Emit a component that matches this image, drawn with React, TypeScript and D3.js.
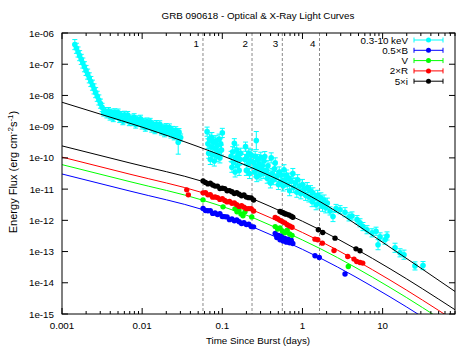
import React from "react";
import * as d3 from "d3";

type Pt = [number, number];
type ErrPt = [number, number, number];

// ---------- texts & ticks ----------
const chartTitle = "GRB 090618 - Optical & X-Ray Light Curves";
const xAxisTitle = "Time Since Burst (days)";
const xTickValues = [0.001, 0.01, 0.1, 1, 10];
const xTickLabels = ["0.001", "0.01", "0.1", "1", "10"];
const yTickValues = [1e-6, 1e-7, 1e-8, 1e-9, 1e-10, 1e-11, 1e-12, 1e-13, 1e-14, 1e-15];
const yTickLabels = ["1e-06", "1e-07", "1e-08", "1e-09", "1e-10", "1e-11", "1e-12", "1e-13", "1e-14", "1e-15"];
const xDomain: [number, number] = [0.001, 80];
const yDomain: [number, number] = [1e-15, 1e-6];
const epochTimes = [0.0574, 0.2348, 0.5606, 1.632];
const epochLabels = ["1", "2", "3", "4"];
const legendLabels = ["0.3-10 keV", "0.5×B", "V", "2×R", "5×i"];

// ---------- X-ray data: [days, flux, relative error] ----------
const xraySteep: ErrPt[] = [
  [1.445e-3, 4.25e-7, 0.45], [1.514e-3, 3.24e-7, 0.45], [1.585e-3, 2.46e-7, 0.45], [1.66e-3, 1.88e-7, 0.45],
  [1.738e-3, 1.43e-7, 0.45], [1.82e-3, 1.09e-7, 0.45], [1.905e-3, 8.3e-8, 0.45], [1.995e-3, 6.31e-8, 0.45],
  [2.089e-3, 4.81e-8, 0.45], [2.188e-3, 3.66e-8, 0.45], [2.291e-3, 2.79e-8, 0.45], [2.399e-3, 2.13e-8, 0.45],
  [2.512e-3, 1.62e-8, 0.45], [2.63e-3, 1.23e-8, 0.45], [2.754e-3, 9.4e-9, 0.45], [2.884e-3, 7.16e-9, 0.45],
  [3.02e-3, 5.46e-9, 0.4], [3.162e-3, 4.15e-9, 0.35],
];
const xrayPlateau: ErrPt[] = [
  [3.311e-3, 2.84e-9, 0.3], [3.467e-3, 3.16e-9, 0.3], [3.631e-3, 2.48e-9, 0.3], [3.802e-3, 3.16e-9, 0.3],
  [3.981e-3, 2.11e-9, 0.3], [4.169e-3, 2.82e-9, 0.3], [4.365e-3, 1.88e-9, 0.3], [4.571e-3, 2.88e-9, 0.3],
  [4.786e-3, 2.21e-9, 0.3], [5.012e-3, 2.82e-9, 0.3], [5.248e-3, 1.76e-9, 0.3], [5.495e-3, 2.35e-9, 0.3],
  [5.754e-3, 1.5e-9, 0.3], [6.026e-3, 2.4e-9, 0.3], [6.31e-3, 1.72e-9, 0.3], [6.607e-3, 2.35e-9, 0.3],
  [6.918e-3, 1.4e-9, 0.3], [7.244e-3, 1.82e-9, 0.3], [7.586e-3, 1.4e-9, 0.3], [7.943e-3, 2.0e-9, 0.3],
  [8.318e-3, 1.17e-9, 0.3], [8.71e-3, 1.71e-9, 0.3], [9.12e-3, 1.34e-9, 0.3], [9.55e-3, 1.79e-9, 0.3],
  [1.0e-2, 1.09e-9, 0.3], [1.047e-2, 1.42e-9, 0.3], [1.096e-2, 9.29e-10, 0.3], [1.148e-2, 1.46e-9, 0.3],
  [1.202e-2, 1.04e-9, 0.3], [1.259e-2, 1.42e-9, 0.3], [1.318e-2, 8.67e-10, 0.3], [1.38e-2, 1.18e-9, 0.3],
  [1.445e-2, 7.73e-10, 0.3], [1.514e-2, 1.21e-9, 0.3], [1.585e-2, 8.89e-10, 0.3], [1.66e-2, 1.19e-9, 0.3],
  [1.738e-2, 7.06e-10, 0.3], [1.82e-2, 9.2e-10, 0.3], [1.905e-2, 6.15e-10, 0.3], [1.995e-2, 9.64e-10, 0.3],
  [2.089e-2, 6.75e-10, 0.3], [2.188e-2, 9.42e-10, 0.3], [2.291e-2, 5.62e-10, 0.3], [2.399e-2, 7.85e-10, 0.3],
  [2.512e-2, 4.9e-10, 0.3], [2.63e-2, 7.67e-10, 0.3], [2.754e-2, 5.25e-10, 0.3], [2.884e-2, 6.68e-10, 0.3],
  [3.02e-2, 4.47e-10, 0.3], [2.818e-2, 3.16e-10, 1.4],
];
const xrayOrbits: ErrPt[] = [
  [6.46e-2, 6.92e-10, 0.4], [6.61e-2, 2.82e-10, 0.45], [6.76e-2, 1.41e-10, 0.45], [6.92e-2, 3.98e-10, 0.45],
  [7.08e-2, 8.91e-11, 0.45], [7.24e-2, 2.24e-10, 0.45], [7.41e-2, 4.47e-10, 0.45], [7.59e-2, 1.26e-10, 0.45],
  [7.76e-2, 3.16e-10, 0.45], [7.94e-2, 7.94e-11, 0.45], [8.13e-2, 2.0e-10, 0.45], [8.32e-2, 3.55e-10, 0.45],
  [8.51e-2, 1.12e-10, 0.45], [8.71e-2, 2.51e-10, 0.45], [8.91e-2, 1.58e-10, 0.45], [9.12e-2, 3.98e-10, 0.45],
  [9.33e-2, 1.0e-10, 0.45], [9.55e-2, 2.82e-10, 0.45], [9.77e-2, 1.78e-10, 0.45], [0.1, 6.31e-10, 0.4],
  [0.1288, 1.12e-10, 0.45], [0.1318, 5.01e-11, 0.45], [0.1349, 1.58e-10, 0.45], [0.138, 7.08e-11, 0.45],
  [0.1413, 2.95e-10, 0.4], [0.1445, 3.55e-11, 0.45], [0.1479, 1.0e-10, 0.45], [0.1514, 1.78e-10, 0.45],
  [0.1549, 5.62e-11, 0.45], [0.1585, 1.26e-10, 0.45], [0.1622, 3.98e-11, 0.45], [0.166, 8.91e-11, 0.45],
  [0.1698, 1.41e-10, 0.45],
  [0.1905, 8.91e-11, 0.45], [0.195, 2.29e-10, 0.4], [0.1995, 3.98e-11, 0.45], [0.2042, 1.12e-10, 0.45],
  [0.2089, 6.31e-11, 0.45], [0.2138, 1.41e-10, 0.45], [0.2188, 3.16e-11, 0.45], [0.2239, 7.94e-11, 0.45],
  [0.2291, 1.26e-10, 0.45],
  [0.2655, 3.58e-10, 0.95],
  [0.2455, 7.08e-11, 0.45], [0.2512, 3.55e-11, 0.45], [0.257, 1.12e-10, 0.45], [0.263, 5.01e-11, 0.45],
  [0.2692, 2.51e-11, 0.45], [0.2754, 8.91e-11, 0.45], [0.2818, 4.47e-11, 0.45], [0.2884, 6.31e-11, 0.45],
  [0.2951, 2.82e-11, 0.45], [0.302, 1.05e-10, 0.45], [0.309, 3.98e-11, 0.45], [0.3162, 5.62e-11, 0.45],
  [0.3236, 3.16e-11, 0.45], [0.3311, 7.94e-11, 0.45], [0.3388, 1.1e-10, 0.45],
  [0.3548, 3.98e-11, 0.45], [0.3631, 2.24e-11, 0.45], [0.3715, 5.62e-11, 0.45], [0.3802, 2.82e-11, 0.45],
  [0.3981, 1.58e-11, 0.45], [0.4074, 1.0e-10, 0.45], [0.4169, 3.16e-11, 0.45], [0.4365, 2.0e-11, 0.45],
  [0.4467, 4.47e-11, 0.45], [0.4571, 6.92e-11, 0.45], [0.4786, 2.51e-11, 0.45], [0.5012, 1.41e-11, 0.45],
  [0.5129, 3.55e-11, 0.45], [0.537, 1.78e-11, 0.45], [0.5495, 2.82e-11, 0.45], [0.5754, 1.26e-11, 0.45],
  [0.5888, 4.17e-11, 0.45], [0.6026, 2.0e-11, 0.45],
  [0.631, 2.82e-11, 0.45], [0.6457, 1.41e-11, 0.45], [0.6761, 2.24e-11, 0.45], [0.6918, 8.91e-12, 0.45],
  [0.7244, 1.78e-11, 0.45], [0.7586, 3.16e-11, 0.45], [0.7762, 1.12e-11, 0.45], [0.8128, 1.58e-11, 0.45],
  [0.8511, 7.94e-12, 0.45], [0.871, 2.0e-11, 0.45], [0.912, 1.26e-11, 0.45], [0.955, 7.08e-12, 0.45],
  [1.0, 1.41e-11, 0.45], [1.047, 1.0e-11, 0.45], [1.096, 6.31e-12, 0.45], [1.148, 1.12e-11, 0.45],
  [1.202, 5.62e-12, 0.45], [1.259, 8.91e-12, 0.45], [1.318, 3.98e-12, 0.45], [1.349, 7.59e-12, 0.45],
  [1.413, 5.01e-12, 0.45], [1.479, 3.16e-12, 0.45], [1.549, 6.31e-12, 0.45], [1.622, 3.55e-12, 0.45],
  [1.698, 5.25e-12, 0.45], [1.778, 2.82e-12, 0.45], [1.862, 4.47e-12, 0.45], [1.95, 2.51e-12, 0.45],
  [2.042, 3.55e-12, 0.45],
];
const xrayLate: ErrPt[] = [
  [2.208, 2.0e-12, 0.35], [2.404, 1.32e-12, 0.45], [2.624, 2.4e-12, 0.35], [2.944, 2.19e-12, 0.35],
  [3.396, 1.82e-12, 0.4], [3.811, 1.29e-12, 0.35], [4.15, 1.38e-12, 0.35], [4.797, 1.05e-12, 0.35],
  [5.224, 8.32e-13, 0.35], [5.689, 6.31e-13, 0.35], [6.383, 5.01e-13, 0.35], [7.379, 3.98e-13, 0.35],
  [8.279, 4.47e-13, 0.35], [8.77, 1.66e-13, 0.45], [9.29, 2.95e-13, 0.35], [10.72, 2.4e-13, 0.4],
  [11.35, 3.16e-13, 0.35], [14.29, 1.32e-13, 0.4], [16.48, 9.12e-14, 0.35], [18.49, 7.94e-14, 0.4],
  [25.35, 3.47e-14, 0.35], [31.92, 3.55e-14, 0.35],
];

// ---------- optical data: [days, flux] ----------
const epoch1Times = [
  5.754e-2, 6.166e-2, 6.607e-2, 7.079e-2, 7.586e-2, 8.128e-2, 8.71e-2, 9.333e-2, 0.1, 0.1072, 0.1148,
  0.123, 0.1318, 0.1413, 0.1514, 0.1622, 0.1738, 0.1862, 0.1995, 0.2138, 0.2291, 0.2455,
];
const fluxI1 = [
  1.82e-11, 1.64e-11, 1.47e-11, 1.55e-11, 1.36e-11, 1.25e-11, 1.25e-11, 1.05e-11, 1.06e-11, 1.04e-11, 8.91e-12,
  8.97e-12, 8.24e-12, 7.23e-12, 7.62e-12, 6.84e-12, 6.14e-12, 6.47e-12, 5.55e-12, 5.33e-12, 5.25e-12, 4.49e-12,
];
const fluxR1 = [
  7.6e-12, 7.66e-12, 6.56e-12, 6.61e-12, 5.53e-12, 5.57e-12, 5.35e-12, 4.69e-12, 4.94e-12, 4.34e-12, 3.89e-12,
  4.01e-12, 3.52e-12, 3.62e-12, 3.18e-12, 2.79e-12, 2.94e-12, 2.64e-12, 2.37e-12, 2.38e-12, 2.34e-12, 2.0e-12,
];
const fluxB1 = [
  2.4e-12, 2.06e-12, 2.03e-12, 2.04e-12, 1.67e-12, 1.72e-12, 1.54e-12, 1.63e-12, 1.33e-12, 1.31e-12, 1.29e-12,
  1.05e-12, 1.11e-12, 9.75e-13, 1.03e-12, 9.02e-13, 7.91e-13, 8.34e-13, 7.31e-13, 7.53e-13, 6.31e-13, 6.19e-13,
];
const bandIOther: Pt[] = [
  [0.5248, 1.91e-12], [0.5495, 1.82e-12], [0.5754, 1.74e-12], [0.6026, 1.62e-12], [0.631, 1.58e-12],
  [0.6761, 1.48e-12], [0.7244, 1.35e-12], [0.7586, 1.26e-12],
  [1.578, 4.97e-13], [1.79, 4.07e-13], [2.55, 2.69e-13], [4.66, 1.22e-13], [5.22, 1.06e-13],
];
const bandROther: Pt[] = [
  [0.036, 9.46e-12], [0.0377, 6.55e-12],
  [0.4571, 1.23e-12], [0.4898, 1.12e-12], [0.5248, 1.0e-12], [0.5623, 9.12e-13], [0.6026, 8.32e-13],
  [0.6457, 7.24e-13], [0.6918, 6.61e-13], [0.7413, 6.03e-13],
  [1.434, 2.5e-13], [1.549, 2.38e-13], [1.77, 1.86e-13], [2.477, 1.08e-13], [3.673, 6.95e-14],
  [4.395, 5.73e-14], [4.753, 4.81e-14], [5.224, 4.47e-14], [5.649, 4.27e-14],
];
const bandV: Pt[] = [
  [0.0574, 4.53e-12], [0.1021, 2.7e-12], [0.1439, 2.33e-12], [0.1524, 1.87e-12], [0.1614, 2.17e-12],
  [0.171, 1.61e-12], [0.1811, 1.39e-12], [0.1919, 1.87e-12], [0.2328, 1.29e-12],
  [0.4571, 6.31e-13], [0.4898, 5.25e-13], [0.5248, 5.75e-13], [0.5623, 4.57e-13], [0.6026, 3.98e-13],
  [0.6457, 4.79e-13], [0.6918, 3.63e-13], [0.7413, 3.31e-13],
  [3.733, 3.33e-14],
];
const bandBOther: Pt[] = [
  [0.4571, 3.8e-13], [0.4786, 2.82e-13], [0.5012, 3.31e-13], [0.5248, 2.4e-13], [0.5495, 3.16e-13],
  [0.5754, 2.19e-13], [0.6026, 2.63e-13], [0.631, 2.0e-13], [0.6607, 2.51e-13], [0.6918, 1.91e-13],
  [0.7244, 2.29e-13], [0.7586, 1.82e-13],
  [1.434, 7.31e-14], [1.622, 6.46e-14], [3.396, 1.9e-14],
];

// ---------- model fits: [days, flux] ----------
const fitXray: Pt[] = [
  [0.001, 6.05e-9], [2.98e-3, 2.54e-9], [1.026e-2, 9.46e-10], [4.98e-2, 2.3e-10], [0.192, 5.97e-11],
  [0.605, 1.585e-11], [2.084, 2.81e-12], [12.37, 1.37e-13], [80, 5.27e-15],
];
const fitI: Pt[] = [
  [0.001, 2.42e-10], [7.05e-3, 6.87e-11], [0.0574, 1.75e-11], [0.256, 4.53e-12], [0.605, 1.7e-12],
  [1.656, 4.97e-13], [12.37, 2.81e-14], [80, 1.37e-15],
];
const fitR: Pt[] = [
  [0.001, 1.06e-10], [7.05e-3, 3.0e-11], [0.0574, 7.62e-12], [0.256, 1.98e-12], [0.605, 7.41e-13],
  [1.656, 2.17e-13], [12.37, 1.22e-14], [80, 5.97e-16],
];
const fitV: Pt[] = [
  [0.001, 6.08e-11], [7.05e-3, 1.73e-11], [0.0574, 4.39e-12], [0.256, 1.14e-12], [0.605, 4.27e-13],
  [1.656, 1.25e-13], [12.37, 7.05e-15], [80, 3.44e-16],
];
const fitB: Pt[] = [
  [0.001, 3.05e-11], [7.05e-3, 8.65e-12], [0.0574, 2.2e-12], [0.256, 5.7e-13], [0.605, 2.14e-13],
  [1.656, 6.25e-14], [12.37, 3.53e-15], [80, 1.72e-16],
];

const colXray = "#00ffff";
const colB = "#0000ff";
const colV = "#00ff00";
const colR = "#ff0000";
const colI = "#000000";

export default function App() {
  const L = 62, R = 455, T = 33, B = 314;
  const x = d3.scaleLog().domain(xDomain).range([L, R]);
  const y = d3.scaleLog().domain(yDomain).range([B, T]);
  const line = d3.line<Pt>().x((d) => x(d[0])).y((d) => y(d[1])).curve(d3.curveMonotoneX);
  const minorX = x.ticks().filter((v) => !xTickValues.some((m) => Math.abs(v / m - 1) < 1e-6));
  const font = "'Liberation Sans', Arial, Helvetica, sans-serif";
  const fs = 9.8;

  const zip = (ts: number[], fs2: number[]): Pt[] => ts.map((t, i) => [t, fs2[i]]);
  const xray = [...xraySteep, ...xrayPlateau, ...xrayOrbits, ...xrayLate];
  const optical = [
    { data: [...zip(epoch1Times, fluxB1), ...bandBOther], color: colB },
    { data: bandV, color: colV },
    { data: [...zip(epoch1Times, fluxR1), ...bandROther], color: colR },
    { data: [...zip(epoch1Times, fluxI1), ...bandIOther], color: colI },
  ];
  const fits = [
    { data: fitB, color: colB },
    { data: fitV, color: colV },
    { data: fitR, color: colR },
    { data: fitI, color: colI },
    { data: fitXray, color: colI },
  ];
  const legendColors = [colXray, colB, colV, colR, colI];

  return (
    <svg width={471} height={346} style={{ position: "absolute", left: 0, top: 0, background: "#fff" }}
      fontFamily={font} fontSize={fs}>
      <defs>
        <clipPath id="plotArea">
          <rect x={L} y={T} width={R - L} height={B - T} />
        </clipPath>
      </defs>
      <rect x={0} y={0} width={471} height={346} fill="#fff" />

      {/* epoch markers */}
      {epochTimes.map((t, i) => (
        <g key={"ep" + i}>
          <line x1={x(t)} x2={x(t)} y1={T} y2={B} stroke="#8a8a8a" strokeWidth={1} strokeDasharray="3,2" />
          <text x={x(t) - 4} y={47} textAnchor="end" fill="#000">{epochLabels[i]}</text>
        </g>
      ))}

      {/* X-ray data */}
      <g clipPath="url(#plotArea)">
        {xray.map((d, i) => {
          const cx = x(d[0]);
          const y1 = y(d[1] / (1 + d[2]));
          const y2 = y(d[1] * (1 + d[2]));
          return (
            <g key={"xe" + i} stroke={colXray} strokeWidth={1}>
              <line x1={cx} x2={cx} y1={y1} y2={y2} />
              <line x1={cx - 2.5} x2={cx + 2.5} y1={y1} y2={y1} />
              <line x1={cx - 2.5} x2={cx + 2.5} y1={y2} y2={y2} />
            </g>
          );
        })}
        {xray.map((d, i) => (
          <circle key={"xp" + i} cx={x(d[0])} cy={y(d[1])} r={2.8} fill={colXray} />
        ))}
      </g>

      {/* model fits */}
      <g clipPath="url(#plotArea)" fill="none">
        {fits.map((f, i) => (
          <path key={"fit" + i} d={line(f.data) || ""} stroke={f.color} strokeWidth={1} />
        ))}
      </g>

      {/* optical data */}
      <g clipPath="url(#plotArea)">
        {optical.map((s, si) =>
          s.data.map((d, i) => (
            <circle key={"op" + si + "-" + i} cx={x(d[0])} cy={y(d[1])} r={2.7} fill={s.color} />
          ))
        )}
      </g>

      {/* frame */}
      <rect x={L} y={T} width={R - L} height={B - T} fill="none" stroke="#000" strokeWidth={1} />

      {/* x ticks */}
      {xTickValues.map((v, i) => (
        <g key={"xt" + i}>
          <line x1={x(v)} x2={x(v)} y1={B} y2={B - 6} stroke="#000" />
          <line x1={x(v)} x2={x(v)} y1={T} y2={T + 6} stroke="#000" />
          <text x={x(v)} y={328.5} textAnchor="middle" fill="#000">{xTickLabels[i]}</text>
        </g>
      ))}
      {minorX.map((v, i) => (
        <g key={"xm" + i}>
          <line x1={x(v)} x2={x(v)} y1={B} y2={B - 3} stroke="#000" />
          <line x1={x(v)} x2={x(v)} y1={T} y2={T + 3} stroke="#000" />
        </g>
      ))}

      {/* y ticks */}
      {yTickValues.map((v, i) => (
        <g key={"yt" + i}>
          <line x1={L} x2={L + 6} y1={y(v)} y2={y(v)} stroke="#000" />
          <line x1={R} x2={R - 6} y1={y(v)} y2={y(v)} stroke="#000" />
          <text x={54} y={y(v) + 3.5} textAnchor="end" fill="#000">{yTickLabels[i]}</text>
        </g>
      ))}

      {/* titles */}
      <text x={258} y={19} textAnchor="middle" fill="#000">{chartTitle}</text>
      <text x={258} y={343.5} textAnchor="middle" fill="#000">{xAxisTitle}</text>
      <text transform="translate(17,172) rotate(-90)" textAnchor="middle" fill="#000" fontSize={11}>
        Energy Flux (erg cm
        <tspan dy={-4.5} fontSize={8}>-2</tspan>
        <tspan dy={4.5}>s</tspan>
        <tspan dy={-4.5} fontSize={8}>-1</tspan>
        <tspan dy={4.5}>)</tspan>
      </text>

      {/* legend */}
      {legendLabels.map((lab, i) => {
        const ly = 40 + i * 10.3;
        const c = legendColors[i];
        return (
          <g key={"lg" + i}>
            <text x={408} y={ly + 3.5} textAnchor="end" fill="#000">{lab}</text>
            <line x1={414} x2={443} y1={ly} y2={ly} stroke={c} />
            <line x1={414} x2={414} y1={ly - 2.5} y2={ly + 2.5} stroke={c} />
            <line x1={443} x2={443} y1={ly - 2.5} y2={ly + 2.5} stroke={c} />
            <circle cx={428.5} cy={ly} r={2.5} fill={c} />
          </g>
        );
      })}
    </svg>
  );
}
